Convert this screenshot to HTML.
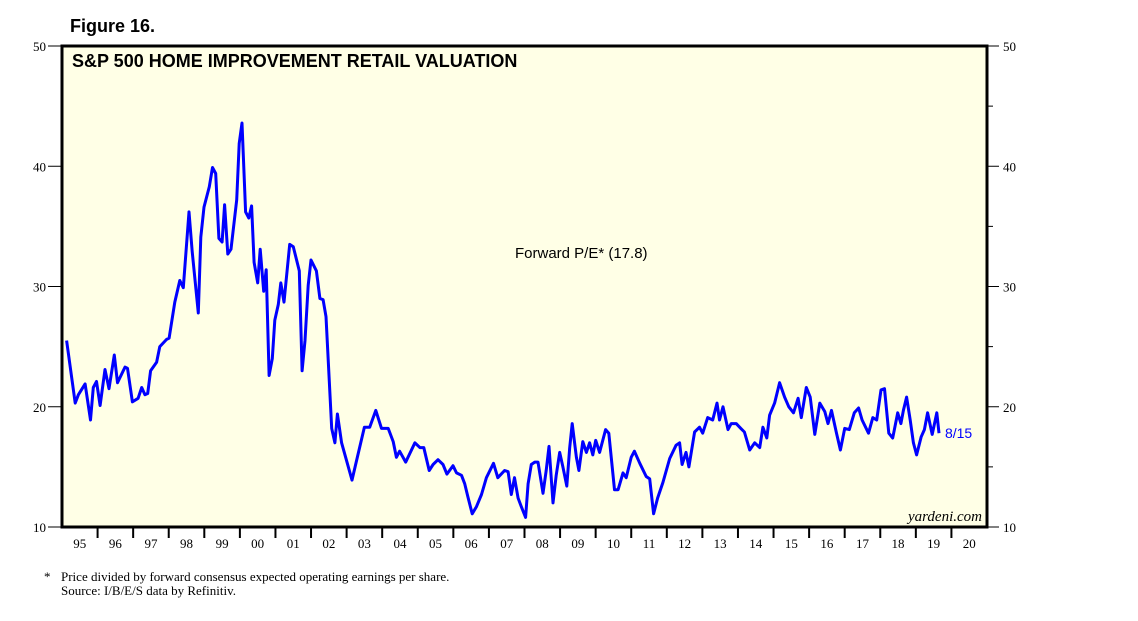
<!DOCTYPE html>
<html><head><meta charset="utf-8"><style>
body{margin:0;background:#fff;width:1138px;height:621px;overflow:hidden}
svg{display:block}
</style></head><body>
<svg id="chart" width="1138" height="621">
<text x="70" y="32" font-family="Liberation Sans, sans-serif" font-weight="bold" font-size="18">Figure 16.</text>
<rect x="62" y="46" width="925" height="481" fill="#FFFFE6" stroke="#000" stroke-width="3"/>
<text x="72" y="67" font-family="Liberation Sans, sans-serif" font-weight="bold" font-size="18">S&amp;P 500 HOME IMPROVEMENT RETAIL VALUATION</text>
<text x="515" y="258" font-family="Liberation Sans, sans-serif" font-size="15">Forward P/E* (17.8)</text>
<text x="982" y="521" text-anchor="end" font-family="Liberation Serif, serif" font-style="italic" font-size="15">yardeni.com</text>
<g id="axes"></g>
<g id="series"></g>
<text x="44" y="581" font-family="Liberation Serif, serif" font-size="13">*</text>
<text x="61" y="581" font-family="Liberation Serif, serif" font-size="13">Price divided by forward consensus expected operating earnings per share.</text>
<text x="61" y="595" font-family="Liberation Serif, serif" font-size="13">Source: I/B/E/S data by Refinitiv.</text>
</svg>
<script>
const yTicks=[10,20,30,40,50];
const yMinor=[15,25,35,45];
const yearLabels=["95","96","97","98","99","00","01","02","03","04","05","06","07","08","09","10","11","12","13","14","15","16","17","18","19","20"];
const dates=[1995.13,1995.37,1995.46,1995.65,1995.8,1995.88,1995.97,1996.07,1996.21,1996.32,1996.47,1996.56,1996.77,1996.84,1996.98,1997.14,1997.24,1997.33,1997.41,1997.49,1997.66,1997.75,1997.94,1998.01,1998.17,1998.31,1998.41,1998.57,1998.66,1998.83,1998.9,1998.99,1999.14,1999.23,1999.32,1999.41,1999.5,1999.57,1999.66,1999.75,1999.91,1999.98,2000.06,2000.16,2000.25,2000.33,2000.4,2000.5,2000.57,2000.67,2000.74,2000.82,2000.91,2000.98,2001.08,2001.15,2001.24,2001.4,2001.5,2001.67,2001.75,2001.83,2001.92,2002.0,2002.15,2002.25,2002.34,2002.42,2002.58,2002.67,2002.74,2002.86,2003.15,2003.27,2003.5,2003.65,2003.82,2003.98,2004.17,2004.31,2004.4,2004.49,2004.66,2004.92,2005.06,2005.17,2005.32,2005.43,2005.57,2005.71,2005.82,2005.99,2006.09,2006.23,2006.32,2006.41,2006.53,2006.65,2006.79,2006.93,2007.13,2007.25,2007.44,2007.54,2007.63,2007.72,2007.82,2007.91,2008.03,2008.1,2008.19,2008.29,2008.38,2008.52,2008.61,2008.69,2008.8,2008.89,2008.99,2009.08,2009.19,2009.27,2009.34,2009.46,2009.53,2009.64,2009.74,2009.83,2009.92,2010.0,2010.11,2010.28,2010.37,2010.53,2010.63,2010.77,2010.86,2011.0,2011.09,2011.24,2011.42,2011.52,2011.63,2011.74,2011.89,2012.08,2012.26,2012.36,2012.43,2012.54,2012.62,2012.78,2012.92,2013.01,2013.15,2013.29,2013.41,2013.48,2013.58,2013.72,2013.81,2013.95,2014.08,2014.18,2014.33,2014.47,2014.61,2014.7,2014.81,2014.89,2015.03,2015.17,2015.31,2015.43,2015.56,2015.69,2015.78,2015.92,2016.03,2016.16,2016.3,2016.44,2016.53,2016.63,2016.77,2016.88,2017.0,2017.13,2017.27,2017.39,2017.49,2017.67,2017.79,2017.9,2018.02,2018.12,2018.24,2018.35,2018.49,2018.58,2018.65,2018.74,2018.84,2018.93,2019.02,2019.15,2019.24,2019.33,2019.46,2019.59,2019.65];
const peValues=[25.5,20.3,21.0,21.9,18.9,21.6,22.1,20.1,23.1,21.5,24.3,22.0,23.3,23.2,20.4,20.7,21.6,21.0,21.1,23.0,23.7,25.0,25.6,25.7,28.7,30.5,29.9,36.2,32.9,27.8,34.1,36.6,38.3,39.9,39.4,34.0,33.7,36.8,32.7,33.1,37.2,41.9,43.6,36.2,35.7,36.7,32.0,30.3,33.1,29.6,31.4,22.6,24.0,27.2,28.5,30.3,28.7,33.5,33.3,31.3,23.0,25.5,30.1,32.2,31.3,29.0,28.9,27.5,18.2,17.0,19.4,17.0,13.9,15.4,18.3,18.3,19.7,18.2,18.2,17.1,15.8,16.3,15.4,17.0,16.6,16.6,14.7,15.2,15.6,15.2,14.4,15.1,14.5,14.3,13.6,12.5,11.1,11.7,12.7,14.1,15.3,14.1,14.7,14.6,12.7,14.1,12.4,11.7,10.8,13.6,15.2,15.4,15.4,12.8,14.7,16.7,12.0,14.3,16.2,15.0,13.4,16.6,18.6,15.8,14.7,17.1,16.2,17.0,16.0,17.2,16.2,18.1,17.8,13.1,13.1,14.5,14.1,15.8,16.3,15.3,14.2,14.0,11.1,12.4,13.7,15.7,16.8,17.0,15.2,16.2,15.0,17.9,18.3,17.8,19.1,18.9,20.3,18.9,20.0,18.1,18.6,18.6,18.2,17.9,16.4,17.0,16.6,18.3,17.4,19.3,20.3,22.0,20.8,20.0,19.5,20.7,19.1,21.6,20.8,17.7,20.3,19.6,18.6,19.7,17.8,16.4,18.2,18.1,19.5,19.9,18.9,17.8,19.1,18.9,21.4,21.5,17.8,17.4,19.5,18.6,19.7,20.8,18.9,17.0,16.0,17.5,18.1,19.5,17.7,19.5,17.8];
const lastLabel="8/15";

const L=62,R=987,T=46,B=527,Y0=1995,Y1=2021;
const xs=t=>L+(t-Y0)/(Y1-Y0)*(R-L);
const ys=v=>B-(v-10)/(50-10)*(B-T);
const NS="http://www.w3.org/2000/svg";
const axes=document.getElementById('axes'),ser=document.getElementById('series');
function mk(tag,at,parent){const e=document.createElementNS(NS,tag);for(const k in at)e.setAttribute(k,at[k]);parent.appendChild(e);return e;}
yTicks.forEach(v=>{
  const y=ys(v);
  let t=mk('line',{x1:L-14,x2:L,y1:y,y2:y,stroke:'#000','stroke-width':1},axes);
  
  
  t=mk('line',{x1:R,x2:R+12,y1:y,y2:y,stroke:'#000','stroke-width':1},axes);
  
  
  let l=mk('text',{x:L-16,y:y+5,'text-anchor':'end','font-family':'Liberation Serif, serif','font-size':13},axes);
  l.textContent=v;
  
  
  l=mk('text',{x:R+16,y:y+5,'font-family':'Liberation Serif, serif','font-size':13},axes);
  l.textContent=v;
  
  
});
yMinor.forEach(v=>{
  const y=ys(v);
  const t=mk('line',{x1:R,x2:R+6,y1:y,y2:y,stroke:'#000','stroke-width':1},axes);
  
  
});
yearLabels.forEach((lab,i)=>{
  const x0=xs(Y0+i);
  if(i>0){const t=mk('line',{x1:x0,x2:x0,y1:B,y2:B+11,stroke:'#000','stroke-width':2},axes);
  
  }
  const l=mk('text',{x:xs(Y0+i+0.5),y:B+21,'text-anchor':'middle','font-family':'Liberation Serif, serif','font-size':13},axes);
  l.textContent=lab;
  
  
});
const d=dates.map((t,i)=>(i?'L':'M')+xs(t).toFixed(1)+','+ys(peValues[i]).toFixed(1)).join('');
const p=mk('path',{d:d,fill:'none',stroke:'#0000FF','stroke-width':3,'stroke-linejoin':'round'},ser);


const n=dates.length-1;
const e=mk('text',{x:xs(dates[n])+6,y:ys(peValues[n])+5,fill:'#0000FF','font-family':'Liberation Sans, sans-serif','font-size':14},ser);
e.textContent=lastLabel;


</script>
</body></html>
